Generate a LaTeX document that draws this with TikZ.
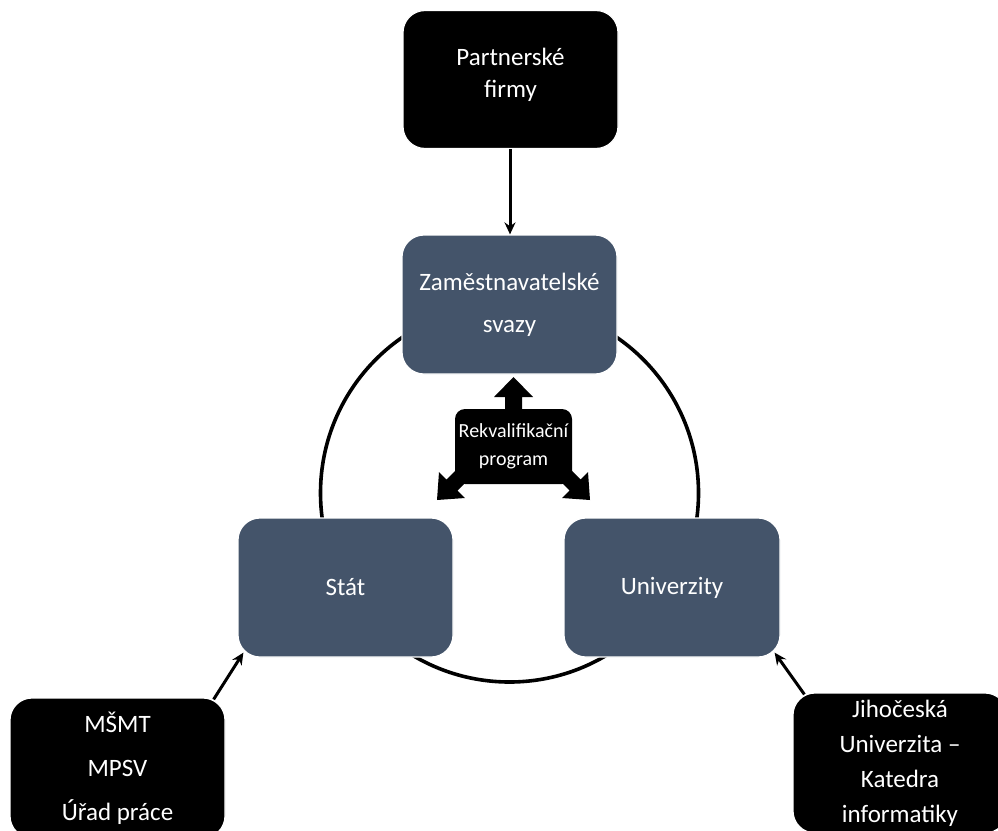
\documentclass[tikz,border=0pt]{standalone}
\usepackage{fontspec}
\setmainfont{Carlito}
\usetikzlibrary{arrows.meta,calc}
\definecolor{slate}{HTML}{44546A}
\begin{document}
\begin{tikzpicture}[x=1pt,y=-1pt,
  darkbox/.style={fill=black, draw=white, line width=1.2pt, rounded corners=22pt,
    minimum width=215pt, minimum height=138pt, text=white, align=center, inner sep=0pt},
  slatebox/.style={fill=slate, draw=white, line width=1.2pt, rounded corners=22pt,
    minimum width=215pt, minimum height=139pt, text=white, align=center, inner sep=0pt},
  boxtext/.style={text=white, align=center, inner sep=0pt},
  conn/.style={line width=3pt, -{Stealth[length=12pt,width=11pt]}},
  ring/.style={line width=3.6pt}
]
\clip (0,0) rectangle (998,830);
\fill[white] (0,0) rectangle (998,830);

% ring joining the three partners
\draw[ring] (509.5,493) circle (189);

% partner boxes
\node[darkbox] (pf) at (510.5,79.5) {};
\node[boxtext, font=\fontsize{25pt}{32pt}\selectfont] (pft) at (510.5,75) {Partnerské\\firmy};
\node[slatebox, font=\fontsize{25pt}{42pt}\selectfont] (zs) at (509.5,304.5)
  {Zaměstnavatelské\\svazy};
\node[slatebox, font=\fontsize{25pt}{30pt}\selectfont] (st) at (345.5,587.5) {Stát};
\node[slatebox, minimum width=216pt, font=\fontsize{25pt}{30pt}\selectfont] (un) at (672,587.5) {Univerzity};
\node[darkbox, minimum height=140pt, font=\fontsize{25pt}{44pt}\selectfont] (mb) at (117.5,768)
  {MŠMT\\MPSV\\Úřad práce};
\node[darkbox, minimum width=214pt, minimum height=140pt, font=\fontsize{25pt}{35pt}\selectfont] (jc) at (900,763)
  {Jihočeská\\Univerzita –\\Katedra\\informatiky};

% central three-way arrow shape
\coordinate (ua1) at (505,410);
\coordinate (ua2) at (505,397);
\coordinate (ua3) at (494,397);
\coordinate (ut)  at (513.5,377);
\coordinate (ua5) at (533,397);
\coordinate (ua6) at (522,397);
\coordinate (ua7) at (522,410);
\fill[black, rounded corners=10pt] (455,409) rectangle (572,484);
\fill[black] (ua1) -- (ua2) -- (ua3) -- (ut) -- (ua5) -- (ua6) -- (ua7) -- cycle;
% down-left arrow
\fill[black] (468,458) -- (446.5,479.5) -- (439,472) -- (437,500) -- (465,498) -- (457.5,490.5) -- (479,469) -- cycle;
% down-right arrow
\fill[black] (559,458) -- (580.5,479.5) -- (588,472) -- (590,500) -- (562,498) -- (569.5,490.5) -- (548,469) -- cycle;
\node[boxtext, font=\fontsize{20pt}{28pt}\selectfont] (rp) at (513.5,446)
  {Rekvalifikační\\program};

% links into the ring
\draw[conn] (pf.south -| 510,0) -- (zs.north -| 510,0);
\coordinate (mbs) at ($(mb.north east)+(-12,2)$);
\coordinate (stt) at ($(st.south west)+(6,-5)$);
\draw[conn] (mbs) -- (stt);
\coordinate (jcs) at ($(jc.north west)+(12,2)$);
\coordinate (unt) at ($(un.south east)+(-6,-5)$);
\draw[conn] (jcs) -- (unt);
\end{tikzpicture}
\end{document}
